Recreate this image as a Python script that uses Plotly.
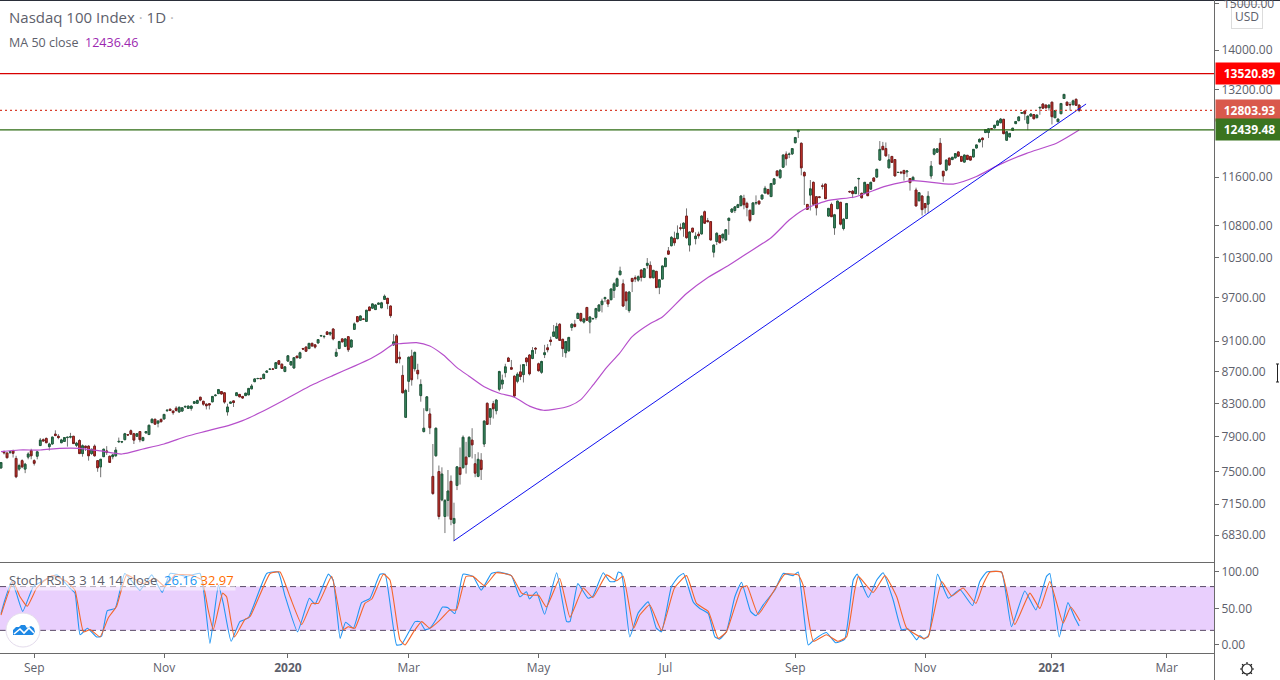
import math
import plotly.graph_objects as go

W, H = 1280, 680

# daily bars (Aug 16 2019 .. Jan 15 2021)
opens = [
    7543, 7725, 7712, 7720, 7740, 7650, 7530, 7625, 7530, 7665,
    7740, 7625, 7675, 7797, 7865, 7880, 7785, 7815, 7930, 7905,
    7830, 7845, 7890, 7895, 7905, 7800, 7855, 7705, 7790, 7790,
    7705, 7790, 7625, 7555, 7670, 7735, 7675, 7670, 7680, 7840,
    7838, 7865, 7925, 7970, 7935, 7905, 7960, 7855, 7945, 7925,
    8066, 8106, 8060, 8105, 8110, 8210, 8228, 8205, 8240, 8194,
    8205, 8255, 8238, 8238, 8300, 8300, 8375, 8325, 8290, 8295,
    8318, 8395, 8420, 8445, 8430, 8195, 8300, 8330, 8395, 8410,
    8385, 8395, 8405, 8480, 8570, 8610, 8612, 8610, 8690, 8730,
    8732, 8740, 8840, 8795, 8700, 8835, 8785, 8745, 8900, 8875,
    9000, 9020, 9000, 9070, 9050, 9075, 9170, 9160, 9225, 9195,
    9265, 8900, 9000, 9130, 9030, 9160, 9020, 9260, 9435, 9385,
    9400, 9370, 9570, 9555, 9535, 9610, 9560, 9680, 9695, 9585,
    9050, 9170, 8885, 8650, 8130, 8575, 8900, 8735, 8715, 8395,
    7960, 8210, 8170, 7449, 7680, 7503, 7195, 7020, 7190, 7395,
    6950, 7350, 7545, 7545, 7665, 7670, 7860, 7590, 7450, 7630,
    7815, 8300, 8130, 8295, 8210, 8475, 8540, 8685, 8875, 8750,
    8640, 8575, 8695, 8660, 8875, 8915, 8870, 9005, 8800, 8690,
    8920, 9010, 9115, 9165, 9140, 9330, 9125, 8945, 8970, 9285,
    9330, 9410, 9480, 9360, 9565, 9360, 9405, 9425, 9515, 9605,
    9690, 9670, 9675, 9810, 9870, 10040, 9905, 9785, 9520, 9985,
    9995, 9960, 10110, 10000, 10180, 10180, 9995, 10090, 9855, 9975,
    10160, 10400, 10480, 10595, 10590, 10760, 10750, 10950, 10490, 10755,
    10590, 10660, 10665, 11020, 10875, 10860, 10380, 10545, 10640, 10600,
    10570, 10878, 11015, 11040, 11090, 11120, 11240, 11158, 11045, 10975,
    11165, 11195, 11230, 11330, 11390, 11270, 11480, 11705, 11590, 11770,
    12000, 11995, 12005, 12205, 12405, 12195, 11680, 11140, 11295, 11510,
    11268, 11265, 11450, 11480, 10950, 11140, 10760, 11070, 11175, 10750,
    10910, 11355, 11360, 11320, 11570, 11325, 11325, 11475, 11395, 11585,
    11600, 11895, 12140, 12100, 11760, 11960, 11905, 11680, 11685, 11715,
    11690, 11575, 11550, 11380, 11200, 11280, 11155, 11145, 11620, 12000,
    12035, 12195, 11700, 11720, 11930, 11905, 11935, 12040, 11960, 11860,
    11980, 11960, 11950, 12110, 12220, 12290, 12390, 12390, 12460, 12475,
    12525, 12570, 12635, 12250, 12310, 12430, 12555, 12610, 12750, 12790,
    12560, 12695, 12725, 12665, 12850, 12925, 12905, 12855, 12960, 12665,
    12590, 12740, 13030, 12960, 12915, 12910, 13015, 12905,
]
closes = [
    7604, 7715, 7658, 7725, 7708, 7445, 7570, 7555, 7585, 7700,
    7680, 7595, 7725, 7860, 7850, 7830, 7815, 7895, 7915, 7890,
    7862, 7890, 7893, 7900, 7820, 7825, 7705, 7795, 7775, 7680,
    7755, 7680, 7545, 7640, 7755, 7720, 7605, 7690, 7745, 7845,
    7842, 7935, 7920, 7930, 7860, 7935, 7865, 7890, 7960, 8035,
    8106, 8048, 8085, 8078, 8165, 8215, 8212, 8186, 8212, 8252,
    8245, 8262, 8266, 8266, 8320, 8335, 8340, 8290, 8270, 8280,
    8385, 8400, 8470, 8415, 8315, 8255, 8315, 8310, 8430, 8380,
    8365, 8425, 8485, 8515, 8605, 8610, 8608, 8665, 8705, 8730,
    8730, 8815, 8795, 8740, 8760, 8905, 8830, 8880, 8880, 8945,
    8995, 8965, 9070, 9035, 9020, 9120, 9175, 9165, 9190, 9215,
    9130, 8950, 9095, 9090, 9130, 8985, 9115, 9335, 9365, 9445,
    9400, 9525, 9520, 9615, 9600, 9625, 9630, 9725, 9620, 9450,
    9090, 8815, 8865, 8430, 8460, 8885, 8595, 8950, 8670, 8535,
    8000, 8380, 8005, 7262, 8000, 7020, 7475, 7190, 7290, 6990,
    7000, 7555, 7470, 7893, 7580, 7893, 7805, 7485, 7640, 7525,
    8085, 8045, 8235, 8233, 8340, 8700, 8590, 8760, 8830, 8730,
    8390, 8665, 8635, 8790, 8825, 8670, 8975, 8995, 8710, 8830,
    8945, 8985, 9095, 9225, 9300, 9110, 9000, 9095, 9150, 9330,
    9300, 9480, 9380, 9405, 9385, 9430, 9410, 9550, 9600, 9655,
    9705, 9615, 9830, 9905, 9980, 10095, 9585, 9660, 9785, 9940,
    9980, 10010, 10000, 10130, 10210, 9995, 10105, 9850, 9965, 10170,
    10290, 10350, 10610, 10525, 10675, 10755, 10835, 10605, 10695, 10695,
    10630, 10635, 10950, 10835, 10860, 10570, 10490, 10675, 10525, 10660,
    10730, 10915, 11065, 11100, 11135, 11280, 11135, 11090, 10880, 11165,
    11170, 11150, 11295, 11410, 11315, 11490, 11570, 11625, 11720, 11985,
    11920, 12000, 12100, 12300, 12430, 11760, 11620, 11060, 11400, 11145,
    11085, 11258, 11445, 11235, 11075, 10940, 10970, 11195, 10820, 10900,
    11155, 11350, 11320, 11430, 11575, 11250, 11510, 11285, 11510, 11530,
    11735, 12085, 12080, 11970, 11900, 11855, 11620, 11680, 11675, 11660,
    11705, 11505, 11595, 11115, 11335, 11055, 11085, 11275, 11790, 12090,
    12095, 11825, 11620, 11895, 11810, 11945, 12010, 11965, 11875, 11985,
    11905, 11895, 12085, 12165, 12265, 12260, 12445, 12460, 12455, 12525,
    12605, 12640, 12370, 12405, 12375, 12470, 12595, 12680, 12760, 12740,
    12695, 12735, 12645, 12715, 12860, 12845, 12850, 12905, 12685, 12800,
    12640, 12935, 13110, 12900, 12910, 12985, 12900, 12804,
]
highs = [
    7610, 7740, 7715, 7735, 7750, 7680, 7590, 7640, 7600, 7720,
    7760, 7640, 7730, 7885, 7880, 7890, 7830, 7900, 7975, 7930,
    7875, 7895, 7900, 7945, 7905, 7840, 7870, 7810, 7795, 7800,
    7760, 7810, 7630, 7645, 7760, 7790, 7680, 7700, 7780, 7890,
    7850, 7945, 7930, 7985, 7945, 7940, 7965, 7900, 7965, 8040,
    8120, 8115, 8095, 8115, 8170, 8225, 8235, 8210, 8265, 8256,
    8250, 8270, 8270, 8270, 8325, 8345, 8380, 8330, 8295, 8300,
    8390, 8415, 8478, 8450, 8435, 8295, 8320, 8335, 8435, 8415,
    8390, 8430, 8490, 8540, 8610, 8620, 8620, 8670, 8715, 8735,
    8738, 8820, 8845, 8800, 8765, 8910, 8835, 8885, 8905, 8960,
    9010, 9030, 9075, 9080, 9055, 9125, 9185, 9170, 9235, 9230,
    9270, 9000, 9105, 9135, 9140, 9165, 9120, 9355, 9440, 9450,
    9410, 9530, 9580, 9620, 9610, 9635, 9645, 9750, 9700, 9590,
    9195, 9195, 8960, 8780, 8480, 8895, 8985, 8960, 8800, 8600,
    8240, 8385, 8240, 7815, 8005, 7570, 7550, 7200, 7520, 7460,
    7165, 7560, 7775, 7915, 7840, 7905, 8000, 7700, 7720, 7710,
    8090, 8310, 8240, 8330, 8350, 8710, 8660, 8800, 8890, 8850,
    8650, 8690, 8790, 8795, 8885, 8925, 9020, 9020, 8815, 8840,
    9050, 9060, 9160, 9320, 9350, 9345, 9130, 9100, 9155, 9345,
    9390, 9495, 9490, 9420, 9570, 9445, 9420, 9560, 9610, 9690,
    9720, 9675, 9835, 9930, 10000, 10160, 9970, 9790, 9800, 9990,
    10030, 10030, 10115, 10135, 10290, 10240, 10110, 10095, 9970, 10175,
    10295, 10460, 10630, 10700, 10800, 10830, 10850, 11075, 10700, 10760,
    10690, 10700, 10960, 11040, 10920, 10870, 10495, 10690, 10650, 10665,
    10740, 10920, 11075, 11105, 11150, 11290, 11300, 11185, 11050, 11175,
    11290, 11200, 11305, 11450, 11395, 11500, 11580, 11720, 11730, 11995,
    12050, 12030, 12105, 12310, 12440, 12210, 11700, 11140, 11550, 11525,
    11280, 11275, 11490, 11490, 11080, 11170, 10985, 11200, 11180, 10915,
    11165, 11370, 11380, 11435, 11590, 11335, 11515, 11480, 11520, 11590,
    11740, 12235, 12220, 12210, 12000, 11965, 11910, 11690, 11700, 11720,
    11710, 11580, 11620, 11420, 11345, 11290, 11165, 11360, 11880, 12110,
    12100, 12290, 11700, 11905, 11935, 11950, 12020, 12045, 11965, 11990,
    11985, 11965, 12090, 12170, 12285, 12295, 12450, 12470, 12465, 12530,
    12625, 12660, 12645, 12410, 12380, 12475, 12600, 12685, 12765, 12795,
    12700, 12745, 12730, 12720, 12870, 12930, 12910, 12910, 12965, 12805,
    12645, 12945, 13115, 12970, 12960, 13010, 13030, 12910,
]
lows = [
    7535, 7695, 7650, 7700, 7660, 7430, 7510, 7540, 7485, 7640,
    7640, 7570, 7640, 7795, 7845, 7825, 7740, 7810, 7905, 7870,
    7825, 7840, 7785, 7880, 7815, 7780, 7700, 7670, 7735, 7625,
    7690, 7670, 7500, 7440, 7670, 7690, 7600, 7640, 7670, 7830,
    7825, 7860, 7915, 7925, 7815, 7900, 7835, 7845, 7935, 7920,
    8060, 8045, 8010, 8065, 8105, 8195, 8205, 8160, 8200, 8190,
    8200, 8245, 8235, 8210, 8295, 8295, 8325, 8270, 8225, 8225,
    8315, 8385, 8415, 8410, 8295, 8150, 8295, 8255, 8390, 8375,
    8355, 8390, 8400, 8475, 8565, 8600, 8600, 8605, 8680, 8725,
    8725, 8735, 8790, 8735, 8690, 8830, 8775, 8740, 8870, 8870,
    8980, 8955, 8995, 9025, 9000, 9070, 9160, 9135, 9185, 9170,
    9110, 8890, 8995, 9085, 9020, 8955, 9015, 9255, 9360, 9380,
    9390, 9365, 9515, 9550, 9530, 9605, 9555, 9675, 9540, 9420,
    9035, 8805, 8805, 8425, 8125, 8440, 8520, 8700, 8600, 8320,
    7950, 8205, 7930, 7250, 7670, 6990, 7180, 6850, 7020, 6930,
    6771, 7300, 7360, 7540, 7480, 7670, 7650, 7440, 7440, 7410,
    7780, 8040, 8040, 8115, 8165, 8450, 8480, 8625, 8825, 8725,
    8370, 8550, 8590, 8560, 8770, 8650, 8860, 8930, 8700, 8670,
    8875, 8950, 9040, 9160, 9130, 9105, 8890, 8880, 8960, 9240,
    9285, 9405, 9360, 9340, 9380, 9205, 9395, 9395, 9510, 9495,
    9640, 9570, 9670, 9700, 9865, 10030, 9570, 9530, 9490, 9785,
    9930, 9935, 9940, 9990, 10130, 9990, 9985, 9845, 9755, 9970,
    10155, 10340, 10470, 10480, 10580, 10720, 10620, 10590, 10390, 10680,
    10500, 10590, 10655, 10830, 10850, 10565, 10300, 10490, 10520, 10540,
    10560, 10650, 11000, 11000, 11080, 11110, 11060, 10945, 10850, 10970,
    11130, 11130, 11220, 11320, 11310, 11265, 11470, 11610, 11570, 11765,
    11800, 11930, 11985, 12195, 12290, 11630, 11130, 11050, 11040, 11130,
    10960, 11240, 11390, 11230, 10940, 10935, 10650, 11065, 10800, 10720,
    10900, 11330, 11245, 11315, 11300, 11240, 11320, 11280, 11390, 11525,
    11595, 11890, 12075, 11960, 11755, 11850, 11615, 11670, 11650, 11540,
    11600, 11370, 11530, 11110, 11195, 10960, 10990, 11000, 11570, 11980,
    12030, 11820, 11520, 11700, 11800, 11895, 11925, 11960, 11870, 11855,
    11900, 11890, 11945, 12105, 12215, 12120, 12385, 12290, 12450, 12470,
    12520, 12565, 12360, 12245, 12305, 12425, 12550, 12600, 12745, 12620,
    12435, 12690, 12640, 12660, 12720, 12840, 12845, 12800, 12540, 12660,
    12585, 12735, 13025, 12895, 12800, 12905, 12890, 12770,
]

# MA 50 read at its bends
ma_bars = [0, 6, 13, 19.5, 26, 33, 40, 47, 54, 61.5, 68, 76, 80, 86, 93.5, 102, 110, 117, 122.5, 125.5, 130,
           132, 137.6, 142, 146.5, 151, 155, 160, 165, 170, 175, 179.6, 183, 188.4, 192, 196, 200.5, 204.8,
           209, 215, 219, 227, 233.6, 241, 247, 255, 261, 265.6, 273.4, 283, 293, 302, 315.3, 323, 330.8,
           339.6, 349.5, 357]
ma_values = [7727, 7746, 7746, 7765, 7765, 7735, 7700, 7757, 7815, 7905, 7965, 8040, 8090, 8190, 8335, 8510, 8650,
             8770, 8870, 8938, 9060, 9065, 9080, 9035, 8915, 8750, 8640, 8506, 8425, 8375, 8265, 8215, 8225, 8270,
             8345, 8525, 8750, 8937, 9160, 9340, 9430, 9765, 9985, 10180, 10360, 10605, 10885, 11050, 11200, 11268,
             11445, 11540, 11480, 11610, 11820, 12015, 12195, 12436]

# Stoch RSI, read at the turning points
k_bars = [0, 1.3, 3.5, 5, 7.2, 10.7, 14, 18.5, 22.8, 24.5, 26.2, 28.6, 31.7, 33.3, 35.2, 37.8, 41, 46, 49.9, 53.4,
          56, 61.5, 65.9, 67.2, 69.2, 72, 73.6, 76.2, 79.1, 81.9, 88, 91.8, 94, 98.2, 102.1, 104, 108.4, 110, 112.3,
          114.1, 116.7, 119.4, 122.2, 125.5, 127.2, 131, 132.7, 137.1, 138.7, 140.4, 142, 144.2, 146.2, 148, 150.3,
          153, 156.3, 159, 162.4, 164.6, 169, 171.8, 174, 175, 177.3, 180, 184, 187.3, 188.4, 191, 194.4, 196, 199.4,
          201.6, 203.3, 204.4, 205.5, 208.2, 211, 214.3, 217, 218.7, 222, 224.2, 226, 229.2, 231.4, 234.2, 236.4, 238,
          240.2, 243, 245.2, 248.2, 250, 252.4, 256.2, 259, 262.3, 264, 267.3, 269.5, 273.3, 276.4, 279.4, 282.2,
          283.5, 287.2, 290, 292.1, 295.4, 298.2, 300.4, 303.2, 304.3, 305.6, 307.3, 310.1, 313.7, 317.5, 321.7,
          324.1, 326.4, 331.3, 334.6, 339, 342.7, 346.2, 347.3, 350.4, 353.3, 355.6, 357]
k_values = [43, 62, 87, 72, 46, 80, 88, 96, 78, 71, 14, 23, 11, 12, 47, 50, 98, 75, 96, 72,
            98, 94, 98, 71, 2, 82, 57, 5, 32, 37, 98, 100, 68, 18, 64, 56, 97, 89, 9,
            31, 23, 58, 64, 97, 97, 0, 1, 32, 32, 21, 23, 36, 52, 51, 43,
            97, 94, 75, 98, 100, 95, 66, 73, 63, 73, 42, 99, 32, 32, 84, 64, 67, 99,
            87, 87, 100, 98, 11, 44, 59, 23, 18, 80, 93, 98, 59, 50, 43, 11, 8,
            18, 66, 86, 46, 40, 55, 75, 98, 95, 100, 0, 8, 17, 3, 8, 89,
            97, 65, 89, 99, 62, 21, 22, 7, 13, 8, 14, 97, 64, 76, 54,
            87, 100, 100, 25, 74, 48, 94, 98, 11, 58, 37, 26.16]
d_bars = [0, 2.4, 4, 6.3, 8.7, 11.8, 14.6, 17.3, 21.8, 24.5, 27.3, 29.5, 32.8, 35.5, 38.3, 41.6, 47.1, 51, 54.3, 57.6,
          62.6, 66.5, 68.6, 70.3, 73.4, 74.7, 77.3, 80.8, 82.5, 89.1, 92.4, 95.7, 99.6, 102.9, 105.1, 109.5, 113.3,
          115, 117.2, 120.5, 122.8, 126.6, 128.8, 132.1, 133.8, 136.6, 139.3, 142, 145.3, 148.6, 150.8, 154, 156.3,
          160.2, 164, 169, 172.4, 175, 178, 180.6, 185, 188.4, 192.8, 196, 200.5, 203.8, 206, 209.5, 211.5, 214.8,
          218.7, 223, 227, 230.3, 234.2, 237.5, 240.2, 245.2, 247, 250.7, 256.2, 259.5, 264, 265.6, 269, 273.3, 277.2,
          280, 281, 282.7, 283.9, 288.8, 292.7, 296.6, 299.9, 305.4, 307, 311.5, 314.8, 318.6, 322.8, 325.3, 327.5,
          331.3, 335.7, 340.7, 344, 347.3, 351.7, 354.2, 357.3]
d_values = [41, 71, 87, 66, 53, 78, 89, 95, 87, 75, 18, 21, 11, 37, 53, 96, 84, 91, 80, 96,
            96, 89, 48, 21, 71, 66, 11, 35, 39, 98, 100, 66, 28, 57, 57, 94, 21,
            25, 23, 57, 63, 97, 89, 7, 0, 18, 32, 23, 34, 48, 48, 94, 94,
            81, 99, 95, 71, 68, 68, 52, 91, 38, 78, 65, 96, 88, 94, 23, 41, 55,
            20, 78, 95, 57, 46, 9, 18, 78, 81, 42, 76, 97, 96, 82, 5, 14, 5,
            11, 30, 75, 94, 72, 95, 66, 23, 9, 11, 87, 67, 78, 57, 84, 100,
            100, 28, 71, 50, 87, 30, 52, 32.97]

# drawn levels and the trend line
level_red = 13520.89
level_last = 12803.93
level_green = 12439.48
trend_bars = [149.9, 359.3]
trend_values = [6771, 12925]

top_price_tick = 15000
price_ticks = [14000, 13200, 11600, 10800, 10300, 9700, 9100, 8700, 8300, 7900, 7500, 7150, 6830]
stoch_ticks = [100, 50, 0]
time_ticks = [11, 54, 95, 135, 178, 220, 263, 306, 348, 386]
time_labels = ["Sep", "Nov", "<b>2020</b>", "Mar", "May", "Jul", "Sep", "Nov", "<b>2021</b>", "Mar"]

bars = list(range(len(opens)))
FONT = "Open Sans"
GREY = "#5d606b"

# same x range in both panes: 3.02 px per bar
x_range = [-0.33, 401.66]
right = 1214 / W


def px(x, y):
    return x / W, 1 - y / H


def poly(points, close=False):
    parts = []
    for i, p in enumerate(points):
        a, b = px(*p)
        parts.append(("M" if i == 0 else "L") + f" {a:.5f},{b:.5f}")
    return " ".join(parts) + (" Z" if close else "")


fig = go.Figure()

# wicks go under the bodies so they can keep their own grey
fig.add_trace(go.Candlestick(
    x=bars, open=opens, high=highs, low=lows, close=closes,
    increasing=dict(line=dict(color="#757575", width=1), fillcolor="#757575"),
    decreasing=dict(line=dict(color="#757575", width=1), fillcolor="#757575"),
    whiskerwidth=0, hoverinfo="skip",
))
fig.add_trace(go.Candlestick(
    x=bars, open=opens, close=closes,
    high=[max(o, c) for o, c in zip(opens, closes)],
    low=[min(o, c) for o, c in zip(opens, closes)],
    increasing=dict(line=dict(color="#1f5c3c", width=1), fillcolor="#3f8f68"),
    decreasing=dict(line=dict(color="#7a1c1c", width=1), fillcolor="#d8392b"),
    whiskerwidth=0, hoverinfo="skip",
))

fig.add_trace(go.Scatter(x=ma_bars, y=ma_values, mode="lines", hoverinfo="skip",
                         line=dict(color="#b64fcb", width=1.2, shape="spline", smoothing=0.6)))
fig.add_trace(go.Scatter(x=trend_bars, y=trend_values, mode="lines", hoverinfo="skip",
                         line=dict(color="#1010f0", width=1)))

for level, color, dash, lw in [(level_red, "#d80000", "solid", 1.3), (level_green, "#2c6b12", "solid", 1.3),
                               (level_last, "#d9402f", "2px,3px", 1.2)]:
    fig.add_trace(go.Scatter(x=x_range, y=[level, level], mode="lines", hoverinfo="skip",
                             line=dict(color=color, width=lw, dash=dash)))

fig.add_trace(go.Scatter(x=k_bars, y=k_values, mode="lines", xaxis="x2", yaxis="y2", hoverinfo="skip",
                         line=dict(color="#2196f3", width=1.1, shape="spline", smoothing=0.4)))
fig.add_trace(go.Scatter(x=d_bars, y=d_values, mode="lines", xaxis="x2", yaxis="y2", hoverinfo="skip",
                         line=dict(color="#f4662b", width=1.1, shape="spline", smoothing=0.4)))

shapes = [
    dict(type="rect", xref="x2", yref="y2", x0=x_range[0], x1=x_range[1], y0=20, y1=80,
         fillcolor="#e9cffd", line_width=0, layer="below"),
]
for band in (80, 20):
    shapes.append(dict(type="line", xref="x2", yref="y2", x0=x_range[0], x1=x_range[1], y0=band, y1=band,
                       line=dict(color="#5a4a68", width=1, dash="6px,4px"), layer="below"))

# pane borders
for x0, y0, x1, y1, color in [(0, 0.5, W, 0.5, "#2a2e39"), (0, 562.5, 1214, 562.5, "#6a6a6a"),
                              (0, 653.5, 1214, 653.5, "#6a6a6a"), (1214.5, 0, 1214.5, H, "#6a6a6a")]:
    a, b = px(x0, y0)
    c, d = px(x1, y1)
    shapes.append(dict(type="line", xref="paper", yref="paper", x0=a, y0=b, x1=c, y1=d,
                       line=dict(color=color, width=1)))

# logo badge
a, b = px(6, 613)
c, d = px(40, 647)
shapes.append(dict(type="circle", xref="paper", yref="paper", x0=a, y0=b, x1=c, y1=d,
                   fillcolor="white", line=dict(color="#e4dcec", width=1)))
shapes.append(dict(type="path", xref="paper", yref="paper", fillcolor="#1e88e5", line_width=0,
                   path=poly([(13, 635), (13, 630), (16, 627), (19, 627), (21, 625), (25, 625),
                              (27, 628), (31, 626), (34, 628), (35, 632), (33, 635)], close=True)))
shapes.append(dict(type="path", xref="paper", yref="paper", line=dict(color="white", width=1.6),
                   path=poly([(14, 634), (20, 629), (24, 633), (29, 628), (34, 633)])))

# settings gear
a, b = px(1242, 664)
c, d = px(1252, 674)
shapes.append(dict(type="circle", xref="paper", yref="paper", x0=a, y0=b, x1=c, y1=d,
                   line=dict(color="#222222", width=1.2)))
for ang in range(0, 360, 45):
    ca, sa = math.cos(math.radians(ang)), math.sin(math.radians(ang))
    a, b = px(1247 + 5 * ca, 669 + 5 * sa)
    c, d = px(1247 + 7 * ca, 669 + 7 * sa)
    shapes.append(dict(type="line", xref="paper", yref="paper", x0=a, y0=b, x1=c, y1=d,
                       line=dict(color="#222222", width=1.2)))

# text cursor left in the screenshot
for seg in ([(1276, 364), (1279, 364)], [(1277.5, 364), (1277.5, 382)], [(1276, 382), (1279, 382)]):
    shapes.append(dict(type="path", xref="paper", yref="paper", line=dict(color="#222222", width=1), path=poly(seg)))

annotations = []


def note(text, x, y, size, color=GREY, anchor="left", **kw):
    a, b = px(x, y)
    annotations.append(dict(text=text, xref="paper", yref="paper", x=a, y=b, xanchor=anchor, yanchor="middle",
                            showarrow=False, font=dict(family=FONT, size=size, color=color), **kw))


note('Nasdaq 100 Index <span style="color:#b5b5b5">·</span> 1D <span style="color:#b5b5b5">·</span>', 7, 17, 15)
note('MA 50 close  <span style="color:#9c27b0">12436.46</span>', 7, 42, 12.5)
note('Stoch RSI 3 3 14 14 close  <span style="color:#2196f3">26.16</span> '
     '<span style="color:#ff6d00">32.97</span>', 7, 580, 13, bgcolor="rgba(255,255,255,0.55)")
note("USD", 1247, 16.5, 12, anchor="center", bordercolor="#dcdcdc", borderwidth=1, borderpad=3, bgcolor="white")

# plotly drops the tick label this close to the top edge
annotations.append(dict(text=f"{top_price_tick:.2f}", xref="paper", yref="y", x=1221 / W,
                        y=math.log10(top_price_tick), xanchor="left", yanchor="middle", showarrow=False,
                        font=dict(family=FONT, size=12, color=GREY)))

for level, color in [(level_red, "#ff0000"), (level_last, "#d9594c"), (level_green, "#3a7420")]:
    annotations.append(dict(text=f"<b>{level:.2f}</b>", xref="paper", yref="y", x=1215 / W, y=math.log10(level),
                            xanchor="left", yanchor="middle", showarrow=False, width=65, height=19, bgcolor=color,
                            font=dict(family=FONT, size=12, color="white")))

fig.update_layout(
    width=W, height=H, margin=dict(l=0, r=0, t=0, b=0),
    paper_bgcolor="white", plot_bgcolor="white", showlegend=False,
    boxgap=0.2, hovermode=False,
    shapes=shapes, annotations=annotations,
    xaxis=dict(domain=[0, right], range=x_range, anchor="y", showgrid=False, zeroline=False,
               showticklabels=False, rangeslider=dict(visible=False), fixedrange=True),
    yaxis=dict(domain=[1 - 562 / H, 1], type="log", range=[math.log10(6563), math.log10(15075)],
               side="right", anchor="x", showgrid=False, zeroline=False,
               tickmode="array", tickvals=[top_price_tick] + price_ticks,
               ticktext=[""] + [f"{t:.2f}" for t in price_ticks],
               ticks="outside", ticklen=4, tickcolor="#6a6a6a",
               tickfont=dict(family=FONT, size=12, color=GREY)),
    xaxis2=dict(domain=[0, right], range=x_range, anchor="y2", showgrid=False, zeroline=False,
                tickmode="array", tickvals=time_ticks, ticktext=time_labels,
                ticks="outside", ticklen=4, tickcolor="#6a6a6a",
                tickfont=dict(family=FONT, size=12, color=GREY)),
    yaxis2=dict(domain=[1 - 653 / H, 1 - 563 / H], range=[-11, 112.3], side="right", anchor="x2",
                showgrid=False, zeroline=False,
                tickmode="array", tickvals=stoch_ticks, ticktext=[f"{t:.2f}" for t in stoch_ticks],
                ticks="outside", ticklen=4, tickcolor="#6a6a6a",
                tickfont=dict(family=FONT, size=12, color=GREY)),
)

fig.write_html("out.html", config={"displayModeBar": False}, post_script="document.body.style.margin='0';")
